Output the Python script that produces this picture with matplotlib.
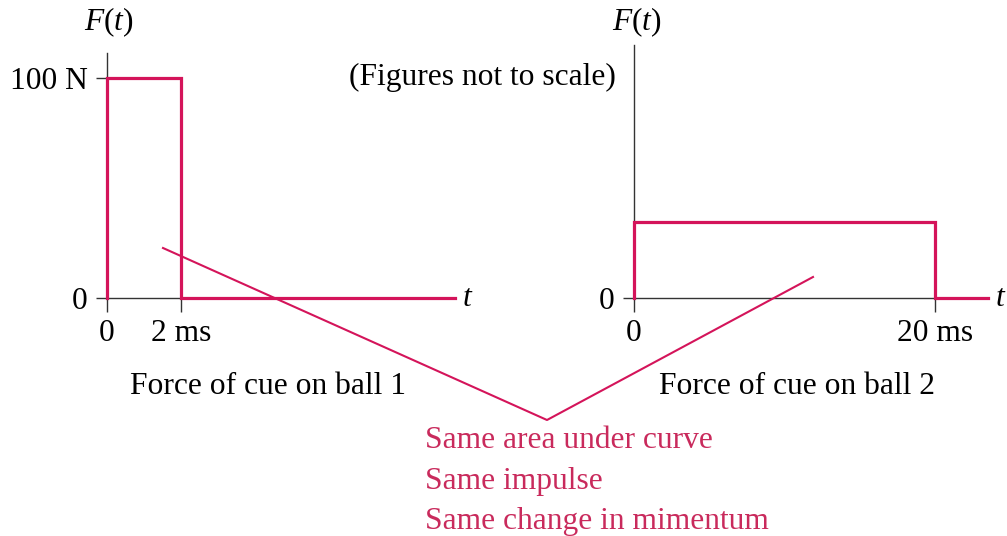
import matplotlib
matplotlib.use('Agg')
import matplotlib.pyplot as plt

plt.rcParams['font.family'] = ['Liberation Serif', 'DejaVu Serif']
plt.rcParams['mathtext.fontset'] = 'custom'
plt.rcParams['mathtext.rm'] = 'Liberation Serif'
plt.rcParams['mathtext.it'] = 'Liberation Serif:italic'

# Data: force pulses (time in ms, force in N)
t1 = [0, 0, 2, 2, 9.4]
f1 = [0, 100, 100, 0, 0]
t2 = [0, 0, 20, 20, 23.5]
f2 = [0, 10, 10, 0, 0]

xticks1 = [0, 2]
xlabels1 = ['0', '2 ms']
yticks1 = [0, 100]
ylabels1 = ['0', '100 N']
xticks2 = [0, 20]
xlabels2 = ['0', '20 ms']
yticks2 = [0]
ylabels2 = ['0']

notes = ['Same area under curve', 'Same impulse', 'Same change in mimentum']

RED = '#d4145a'
TXT = '#c92a5c'
AX = '#333333'
FS = 22.7

W, H = 1007, 536
fig = plt.figure(figsize=(W / 100, H / 100), dpi=100)


def px_axes(x0, y0, x1, y1):
    return fig.add_axes([x0 / W, 1 - y1 / H, (x1 - x0) / W, (y1 - y0) / H])


def setup(ax, t, f, xlim, ylim, xt, xl, yt, yl):
    ax.plot(t, f, color=RED, lw=2.3, clip_on=False, solid_joinstyle='miter', zorder=3)
    ax.set_xlim(*xlim)
    ax.set_ylim(*ylim)
    for s in ['top', 'right']:
        ax.spines[s].set_visible(False)
    for s in ['left', 'bottom']:
        ax.spines[s].set_color(AX)
        ax.spines[s].set_linewidth(1.0)
    ax.set_xticks(xt, xl)
    ax.set_yticks(yt, yl)
    ax.tick_params(axis='x', direction='out', length=10, width=1, color=AX,
                   labelsize=FS, pad=5)
    ax.tick_params(axis='y', direction='out', length=8, width=1, color=AX,
                   labelsize=FS, pad=6)
    ax.patch.set_alpha(0)
    ax.text(1.02, 0, '$t$', transform=ax.transAxes, ha='left', va='center',
            fontsize=FS)


ax1 = px_axes(107, 53, 455, 298)
setup(ax1, t1, f1, (0, 9.4), (0, 111.3), xticks1, xlabels1, yticks1, ylabels1)

ax2 = px_axes(634, 45, 988, 298)
setup(ax2, t2, f2, (0, 23.5), (0, 33.3), xticks2, xlabels2, yticks2, ylabels2)

# axis titles
fig.text(109 / W, 1 - 22 / H, '$F(t)$', ha='center', va='center', fontsize=FS)
fig.text(637 / W, 1 - 22 / H, '$F(t)$', ha='center', va='center', fontsize=FS)

# captions
fig.text(268 / W, 1 - 386 / H, 'Force of cue on ball 1', ha='center', va='center', fontsize=FS)
fig.text(797 / W, 1 - 386 / H, 'Force of cue on ball 2', ha='center', va='center', fontsize=FS)
fig.text(482 / W, 1 - 77 / H, '(Figures not to scale)', ha='center', va='center', fontsize=FS)

# pointer lines to the note
ptr_x = [163, 547, 813]
ptr_y = [248, 420, 277]
ov = fig.add_axes([0, 0, 1, 1])
ov.set_xlim(0, W)
ov.set_ylim(H, 0)
ov.axis('off')
ov.patch.set_alpha(0)
ov.plot(ptr_x, ptr_y, color=RED, lw=1.5)

for i, line in enumerate(notes):
    fig.text(425 / W, 1 - (441 + 40 * i) / H, line, ha='left', va='center',
             fontsize=FS, color=TXT)

fig.savefig('out.png', dpi=100)
